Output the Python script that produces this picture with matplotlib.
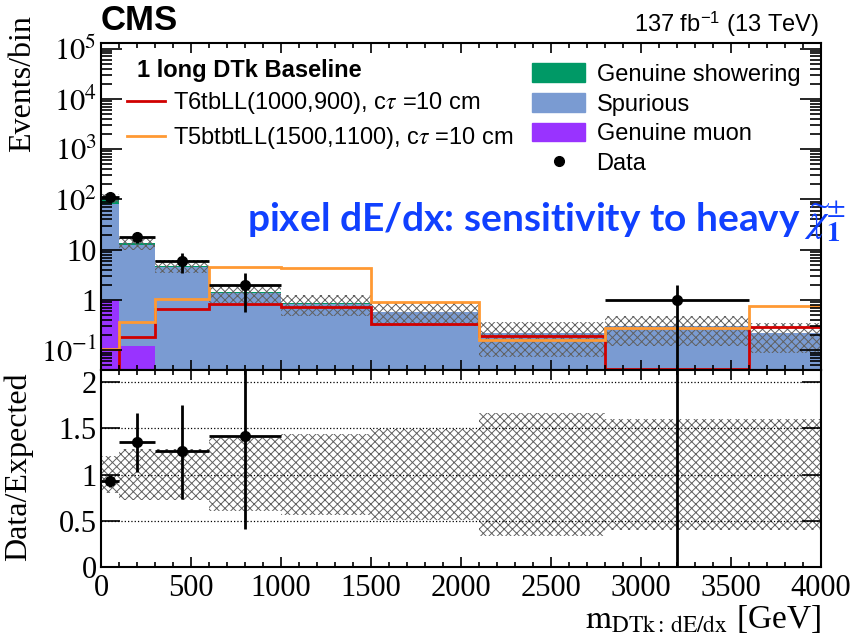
import matplotlib
matplotlib.use('Agg')
import matplotlib.pyplot as plt
import numpy as np
from matplotlib.lines import Line2D
from matplotlib.patches import Patch
from matplotlib.ticker import MultipleLocator, LogLocator, FuncFormatter, NullFormatter, FixedLocator

plt.rcParams['font.family'] = 'Liberation Serif'
plt.rcParams['mathtext.fontset'] = 'stix'
plt.rcParams['hatch.linewidth'] = 0.7
plt.rcParams['hatch.color'] = '#606060'

# binning in m_DTk [GeV]
edges = [0, 100, 300, 600, 1000, 1500, 2100, 2800, 3600, 4000]

# background stack (events/bin)
muon = [1.0, 0.12, 0, 0, 0, 0, 0, 0, 0]
spurious = [81, 12.5, 4.5, 1.35, 0.83, 0.57, 0.22, 0.30, 0.22]
showering = [23, 0.9, 0.3, 0.07, 0.04, 0.02, 0, 0, 0]
rel_unc = [0.20, 0.28, 0.28, 0.39, 0.44, 0.49, 0.67, 0.60, 0.60]

# signal models
t6tb = [0, 0.18, 0.66, 0.83, 0.72, 0.33, 0.19, 0.043, 0.29]
t5btbt = [0.105, 0.36, 1.05, 4.5, 4.4, 0.92, 0.16, 0.28, 0.76]

# data, only the bins with events
data_x = [50, 200, 450, 800, 3200]
data_xerr = [50, 100, 150, 200, 400]
data_y = [112, 18, 6.0, 2.0, 1.0]
data_lo = [103, 13.8, 3.5, 0.58, 0]
data_hi = [121, 22.6, 8.5, 3.4, 2.0]

# data / expected
ratio_y = [0.93, 1.35, 1.25, 1.42, 3.3]
ratio_lo = [0.86, 1.03, 0.73, 0.41, 0]
ratio_hi = [1.0, 1.66, 1.75, 2.4, 6.6]

c_show = '#009966'
c_spur = '#7a9bd2'
c_muon = '#9933ff'
c_red = '#d00000'
c_orange = '#ff9933'
sans = 'Liberation Sans'

W, H = 860, 636
fig = plt.figure(figsize=(W / 100, H / 100), dpi=100)
ax = fig.add_axes([101 / W, 1 - 370 / H, 720 / W, 327 / H])
ax_r = fig.add_axes([101 / W, 1 - 567 / H, 720 / W, 197 / H], sharex=ax)

edges = np.array(edges)
b1 = np.array(muon, dtype=float)
b2 = b1 + np.array(spurious)
total = b2 + np.array(showering)
unc = np.array(rel_unc)

# upper panel
ax.set_yscale('log')
ax.stairs(b1, edges, baseline=np.zeros_like(b1), fill=True, color=c_muon, lw=0)
ax.stairs(b2, edges, baseline=b1, fill=True, color=c_spur, lw=0)
ax.stairs(total, edges, baseline=b2, fill=True, color=c_show, lw=0)
ax.stairs(total * (1 + unc), edges, baseline=total * (1 - unc), fill=True,
          facecolor='none', edgecolor='#606060', hatch='xxxx', lw=0)
ax.stairs(t6tb, edges, baseline=None, color=c_red, lw=2)
ax.stairs(t5btbt, edges, baseline=None, color=c_orange, lw=2)
dy = np.array(data_y)
ax.errorbar(data_x, dy, xerr=data_xerr,
            yerr=[dy - np.array(data_lo), np.array(data_hi) - dy],
            fmt='o', color='k', ms=7, lw=2, capsize=0, zorder=5)
ax.set_ylim(0.0406, 1.29e5)
ax.set_xlim(0, 4000)


def log_label(v, pos):
    if np.isclose(v, 1):
        return '1'
    if np.isclose(v, 10):
        return '10'
    return r'$10^{%d}$' % int(round(np.log10(v)))


ax.yaxis.set_major_locator(LogLocator(base=10, numticks=20))
ax.yaxis.set_minor_locator(LogLocator(base=10, subs=np.arange(2, 10), numticks=20))
ax.yaxis.set_major_formatter(FuncFormatter(log_label))
ax.yaxis.set_minor_formatter(NullFormatter())
ax.xaxis.set_major_locator(MultipleLocator(500))
ax.xaxis.set_minor_locator(MultipleLocator(100))
ax.tick_params(which='both', direction='in', top=True, right=True, labelbottom=False,
               labelsize=22, pad=3, width=1.2)
ax.tick_params(axis='y', which='major', length=15)
ax.tick_params(axis='y', which='minor', length=8)
ax.tick_params(axis='x', which='major', length=7)
ax.tick_params(axis='x', which='minor', length=3.5)
ax.set_ylabel('Events/bin', fontsize=23, loc='top')
ax.yaxis.set_label_coords(-0.089, 1.086)

# legends
ax.text(0.05, 0.896, '1 long DTk Baseline', transform=ax.transAxes,
        fontsize=17, family=sans, fontweight='bold', va='baseline')
sig_handles = [Line2D([], [], color=c_red, lw=2), Line2D([], [], color=c_orange, lw=2)]
sig_labels = [r'T6tbLL(1000,900), c$\tau$ =10 cm', r'T5btbtLL(1500,1100), c$\tau$ =10 cm']
leg1 = ax.legend(sig_handles, sig_labels, loc='upper left', bbox_to_anchor=(0.036, 0.855),
                 frameon=False, borderpad=0, borderaxespad=0, labelspacing=0.38,
                 handlelength=1.6, handletextpad=0.34, prop={'family': sans, 'size': 17})
ax.add_artist(leg1)
bkg_handles = [Patch(color=c_show), Patch(color=c_spur), Patch(color=c_muon),
               Line2D([], [], marker='o', color='k', ls='none', ms=7)]
bkg_labels = ['Genuine showering', 'Spurious', 'Genuine muon', 'Data']
ax.legend(bkg_handles, bkg_labels, loc='upper left', bbox_to_anchor=(0.599, 0.938),
          frameon=False, borderpad=0, borderaxespad=0, labelspacing=0.3,
          handlelength=2.25, handleheight=0.85, handletextpad=0.47,
          prop={'family': sans, 'size': 17})

# ratio panel
ax_r.stairs(1 + unc, edges, baseline=1 - unc, fill=True,
            facecolor='none', edgecolor='#606060', hatch='xxxx', lw=0)
for level in [0.5, 1.0, 1.5, 2.0]:
    ax_r.axhline(level, color='k', ls=':', lw=0.9, zorder=3)
ry = np.array(ratio_y)
ax_r.errorbar(data_x, ry, xerr=data_xerr,
              yerr=[ry - np.array(ratio_lo), np.array(ratio_hi) - ry],
              fmt='o', color='k', ms=7, lw=2, capsize=0, zorder=5)
ax_r.set_ylim(0, 2.13)
ax_r.yaxis.set_major_locator(FixedLocator([0, 0.5, 1, 1.5, 2]))
ax_r.yaxis.set_major_formatter(FuncFormatter(lambda v, p: f'{v:g}'))
ax_r.xaxis.set_major_formatter(FuncFormatter(lambda v, p: f'{v:g}'))
ax_r.tick_params(which='both', direction='in', top=True, right=True, labelsize=22,
                 pad=3, width=1.2)
ax_r.tick_params(axis='x', pad=5)
ax_r.tick_params(axis='y', which='major', length=14)
ax_r.tick_params(axis='x', which='major', length=7)
ax_r.tick_params(axis='x', which='minor', length=3.5)
ax_r.set_ylabel('Data/Expected', fontsize=23, loc='top')
ax_r.yaxis.set_label_coords(-0.094, 0.99)
ax_r.set_xlabel(r'$\mathrm{m}_{\mathrm{DTk:\,dE/dx}}$ [GeV]', fontsize=24, loc='right')
ax_r.xaxis.set_label_coords(1.0, -0.183)

for a in (ax, ax_r):
    for s in a.spines.values():
        s.set_linewidth(1.5)

# header texts
fig.text(101 / W, 1 - 30 / H, 'CMS', family=sans, fontweight='bold', fontsize=25, va='baseline')
fig.text(819 / W, 1 - 32 / H, r'137 fb$^{\mathregular{-1}}$ (13 TeV)', family=sans,
         fontsize=17, ha='right', va='baseline')
fig.text(247 / W, 1 - 231 / H,
         r'pixel dE/dx: sensitivity to heavy $\widetilde{\chi}_{\mathbf{1}}^{\pm}$',
         family='Lato', fontweight='bold', fontsize=28, color='#1040ff', va='baseline')

fig.savefig('out.png', dpi=100)
